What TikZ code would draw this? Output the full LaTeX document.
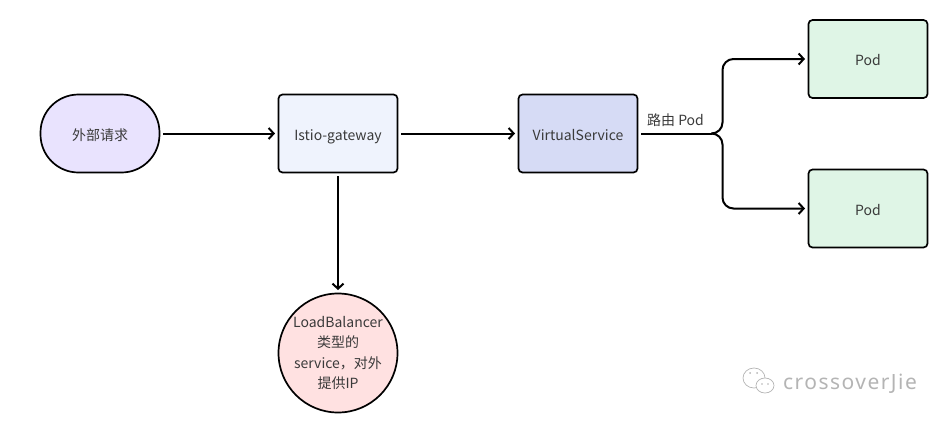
\documentclass[tikz,border=0pt]{standalone}
\usepackage{fontspec}
\setmainfont{Noto Sans CJK SC}
\newfontfamily\markfont[LetterSpace=7]{Noto Sans}
\usetikzlibrary{arrows.meta}
\definecolor{inkcol}{HTML}{3A3A3A}
\definecolor{startcol}{HTML}{E9E3FE}
\definecolor{gatecol}{HTML}{EFF3FD}
\definecolor{routecol}{HTML}{D6DBF5}
\definecolor{podcol}{HTML}{DFF5E6}
\definecolor{lbcol}{HTML}{FFE1E1}
\definecolor{markcol}{HTML}{B4B4B4}
\begin{document}
\begin{tikzpicture}[x=1pt, y=-1pt,
      base/.style = {draw=black, line width=1.7pt, text=inkcol, outer sep=3.5pt,
        font=\fontsize{14}{20.3}\selectfont},
      main/.style = {base, minimum width=119pt, minimum height=78pt, rounded corners=4pt,
        text height=13.5pt, text depth=0.5pt},
      pill/.style = {main, rounded corners=38pt, fill=startcol},
      flow/.style = {-{Straight Barb[length=5pt, width=11pt]}, line width=2pt}]
    \useasboundingbox (0, 0) rectangle (948, 421);

    % nodes
    \node[pill] (start) at (100, 133.5) {外部请求};
    \node[main, fill=gatecol] (gateway) at (338, 133.5) {Istio-gateway};
    \node[main, fill=routecol] (vs) at (578, 133.5) {VirtualService};
    \node[main, fill=podcol] (pod1) at (868, 59) {Pod};
    \node[main, fill=podcol] (pod2) at (868, 208.5) {Pod};
    \node[base, circle, fill=lbcol, minimum size=119pt, inner sep=0pt, align=center] (lb)
      at (338, 353) {LoadBalancer\\类型的\\service，对外\\提供IP};
    \node[text=inkcol, font=\fontsize{14}{16}\selectfont] (route) at (675.5, 120) {路由 Pod};

    \coordinate (fork) at (712, 133.5);
    \coordinate (trunk) at (722.5, 133.5);

    % edges
    \draw[flow] (start) -- (gateway);
    \draw[flow] (gateway) -- (vs);
    \draw[flow] (gateway) -- (lb);
    \draw[line width=2pt] (vs) -- (fork);
    \draw[flow, rounded corners=11pt] (fork) -- (trunk) |- (pod1);
    \draw[flow, rounded corners=11pt] (fork) -- (trunk) |- (pod2);

    % watermark
    \draw[markcol, line width=0.7pt] (754, 378) ellipse (11 and 10);
    \draw[markcol, line width=0.7pt, fill=white] (765, 385.5) ellipse (9 and 7.5);
    \fill[markcol] (750, 373) circle (1) (757, 373) circle (1) (762, 384) circle (0.8) (768, 384) circle (0.8);
    \node[text=markcol, font=\markfont\fontsize{21}{24}\selectfont] (mark) at (850, 384) {crossoverJie};
  \end{tikzpicture}
\end{document}
